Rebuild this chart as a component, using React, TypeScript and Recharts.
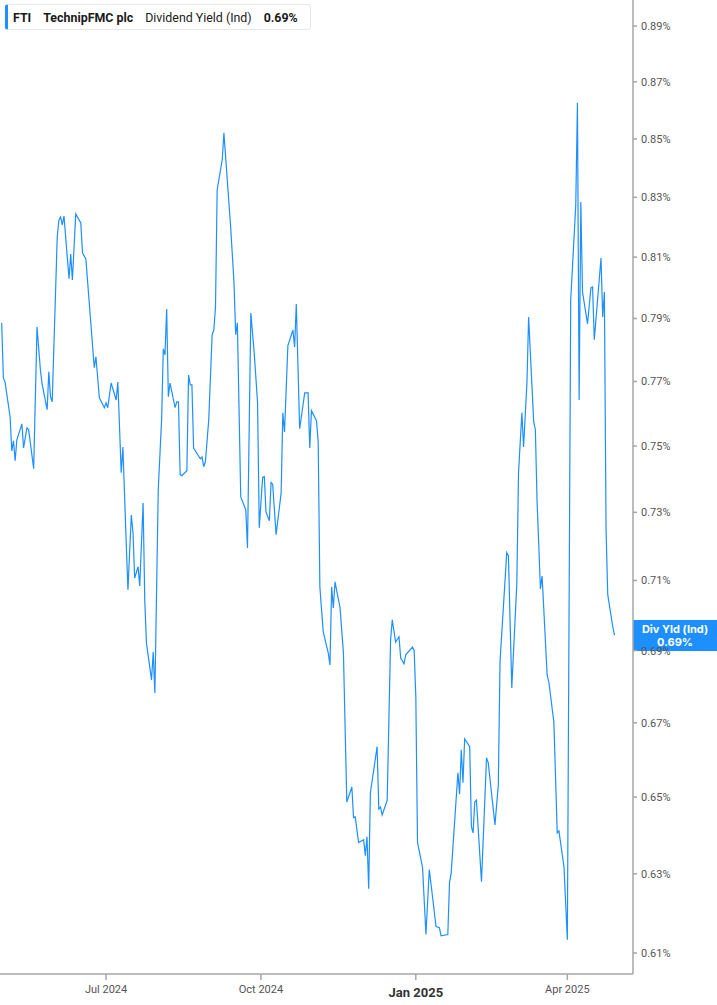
import { LineChart, Line, XAxis, YAxis, ReferenceLine } from 'recharts';

// daily dividend yield (Ind), %
const dates = [
  '2024-04-30', '2024-05-01', '2024-05-02', '2024-05-05', '2024-05-06', '2024-05-07', '2024-05-08',
  '2024-05-09', '2024-05-12', '2024-05-13', '2024-05-15', '2024-05-16', '2024-05-19', '2024-05-21', '2024-05-23',
  '2024-05-24', '2024-05-27', '2024-05-28', '2024-05-29', '2024-05-30', '2024-06-02', '2024-06-03', '2024-06-04',
  '2024-06-05', '2024-06-06', '2024-06-09', '2024-06-10', '2024-06-11', '2024-06-13', '2024-06-16', '2024-06-17',
  '2024-06-19', '2024-06-24', '2024-06-25', '2024-06-27', '2024-06-30', '2024-07-01', '2024-07-02', '2024-07-04',
  '2024-07-07', '2024-07-08', '2024-07-10', '2024-07-11', '2024-07-13', '2024-07-14', '2024-07-16', '2024-07-17',
  '2024-07-18', '2024-07-20', '2024-07-21', '2024-07-23', '2024-07-24', '2024-07-25', '2024-07-28', '2024-07-29',
  '2024-07-30', '2024-08-01', '2024-08-03', '2024-08-04', '2024-08-05', '2024-08-06', '2024-08-07', '2024-08-08',
  '2024-08-11', '2024-08-12', '2024-08-13', '2024-08-14', '2024-08-15', '2024-08-18', '2024-08-19', '2024-08-20',
  '2024-08-21', '2024-08-22', '2024-08-26', '2024-08-27', '2024-08-28', '2024-08-29', '2024-08-31', '2024-09-02',
  '2024-09-03', '2024-09-04', '2024-09-05', '2024-09-08', '2024-09-09', '2024-09-11', '2024-09-13', '2024-09-15',
  '2024-09-16', '2024-09-17', '2024-09-19', '2024-09-22', '2024-09-23', '2024-09-25', '2024-09-27', '2024-09-29',
  '2024-09-30', '2024-10-02', '2024-10-03', '2024-10-04', '2024-10-06', '2024-10-07', '2024-10-08', '2024-10-10',
  '2024-10-13', '2024-10-14', '2024-10-15', '2024-10-17', '2024-10-20', '2024-10-21', '2024-10-22', '2024-10-24',
  '2024-10-27', '2024-10-29', '2024-10-30', '2024-10-31', '2024-11-03', '2024-11-04', '2024-11-05', '2024-11-07',
  '2024-11-10', '2024-11-11', '2024-11-12', '2024-11-13', '2024-11-14', '2024-11-17', '2024-11-19', '2024-11-21',
  '2024-11-24', '2024-11-25', '2024-11-26', '2024-11-28', '2024-12-01', '2024-12-02', '2024-12-03', '2024-12-04',
  '2024-12-05', '2024-12-09', '2024-12-10', '2024-12-11', '2024-12-12', '2024-12-15', '2024-12-17', '2024-12-18',
  '2024-12-20', '2024-12-22', '2024-12-23', '2024-12-25', '2024-12-26', '2024-12-30', '2024-12-31', '2025-01-01',
  '2025-01-02', '2025-01-05', '2025-01-07', '2025-01-09', '2025-01-13', '2025-01-15', '2025-01-16', '2025-01-20',
  '2025-01-21', '2025-01-22', '2025-01-26', '2025-01-27', '2025-01-28', '2025-01-29', '2025-01-30', '2025-02-02',
  '2025-02-03', '2025-02-04', '2025-02-05', '2025-02-06', '2025-02-09', '2025-02-12', '2025-02-13', '2025-02-17',
  '2025-02-19', '2025-02-20', '2025-02-24', '2025-02-25', '2025-02-27', '2025-03-02', '2025-03-03', '2025-03-05',
  '2025-03-06', '2025-03-08', '2025-03-09', '2025-03-12', '2025-03-13', '2025-03-14', '2025-03-16', '2025-03-17',
  '2025-03-20', '2025-03-21', '2025-03-24', '2025-03-26', '2025-03-27', '2025-03-30', '2025-04-01', '2025-04-03',
  '2025-04-06', '2025-04-07', '2025-04-08', '2025-04-09', '2025-04-10', '2025-04-13', '2025-04-15', '2025-04-16',
  '2025-04-17', '2025-04-21', '2025-04-22', '2025-04-23', '2025-04-24', '2025-04-25', '2025-04-28', '2025-04-29',
];

const yieldPct = [
  0.7886, 0.7711, 0.7698, 0.759, 0.7485, 0.7516, 0.7455,
  0.7519, 0.7568, 0.7494, 0.7556, 0.755, 0.7431, 0.7873, 0.7736,
  0.7692, 0.7612, 0.773, 0.7652, 0.7636, 0.8167, 0.8224, 0.8234,
  0.8207, 0.8237, 0.8029, 0.811, 0.8025, 0.8244, 0.8214, 0.8114,
  0.8094, 0.7743, 0.7778, 0.7649, 0.7618, 0.7633, 0.7618, 0.7695,
  0.7642, 0.7698, 0.7419, 0.7497, 0.7204, 0.7073, 0.7292, 0.724,
  0.7107, 0.714, 0.7084, 0.7328, 0.7041, 0.6921, 0.6818, 0.6896,
  0.6782, 0.7368, 0.7581, 0.7803, 0.7784, 0.7931, 0.7652, 0.7695,
  0.7618, 0.7636, 0.7636, 0.7413, 0.741, 0.7425, 0.772, 0.7689,
  0.7689, 0.7494, 0.7461, 0.7467, 0.7437, 0.7452, 0.7581, 0.7848,
  0.7863, 0.7937, 0.8325, 0.8428, 0.8521, 0.8359, 0.8201, 0.8016,
  0.7848, 0.7886, 0.7346, 0.7307, 0.7195, 0.7918, 0.779, 0.7633,
  0.7254, 0.7404, 0.7407, 0.7301, 0.7275, 0.7389, 0.7383, 0.7234,
  0.7358, 0.7602, 0.7543, 0.7813, 0.7863, 0.7809, 0.7947, 0.7553,
  0.7664, 0.7664, 0.7494, 0.7609, 0.7578, 0.7513, 0.7081, 0.6953,
  0.6893, 0.686, 0.7081, 0.7021, 0.7096, 0.7021, 0.6893, 0.6487,
  0.6527, 0.6446, 0.6448, 0.6381, 0.6388, 0.6347, 0.6396, 0.6262,
  0.6511, 0.6635, 0.6469, 0.6474, 0.6453, 0.6492, 0.693, 0.6987,
  0.6924, 0.6939, 0.6879, 0.6863, 0.6888, 0.691, 0.6901, 0.6771,
  0.6381, 0.6316, 0.6146, 0.6311, 0.6166, 0.6163, 0.6143, 0.6146,
  0.6277, 0.6302, 0.6565, 0.6508, 0.6627, 0.6538, 0.6656, 0.6635,
  0.6422, 0.6406, 0.6487, 0.6492, 0.628, 0.6605, 0.6592, 0.6427,
  0.6533, 0.6868, 0.7181, 0.7172, 0.6796, 0.7093, 0.7419, 0.7602,
  0.7497, 0.7695, 0.7905, 0.7575, 0.755, 0.7337, 0.7076, 0.7113,
  0.6832, 0.6813, 0.6702, 0.6406, 0.6411, 0.6318, 0.6133, 0.796,
  0.8274, 0.8626, 0.7642, 0.8284, 0.7986, 0.7883, 0.7999, 0.8002,
  0.7832, 0.8097, 0.7905, 0.7986, 0.7248, 0.7059, 0.6967, 0.6944,
];

const yTicks = [0.61, 0.63, 0.65, 0.67, 0.69, 0.71, 0.73, 0.75, 0.77, 0.79, 0.81, 0.83, 0.85, 0.87, 0.89];
const xTickDates = ['2024-07-01', '2024-10-01', '2025-01-01', '2025-04-01'];
const xTickLabels = ['Jul 2024', 'Oct 2024', 'Jan 2025', 'Apr 2025'];
const yearStartLabel = 'Jan 2025';

const ticker = 'FTI';
const company = 'TechnipFMC plc';
const metric = 'Dividend Yield (Ind)';
const metricShort = 'Div Yld (Ind)';

const BLUE = '#1e8fff';
const AXIS = '#a6a6a6';

const toTs = (s: string) => Date.parse(s + 'T00:00:00Z');

const data = dates.map((d, i) => ({ t: toTs(d), v: yieldPct[i] }));
const xTicks = xTickDates.map(toTs);
const lastValue = yieldPct[yieldPct.length - 1];
const fmt = (v: number) => v.toFixed(2) + '%';

function XTick(props: any) {
  const { x, y, payload } = props;
  const label = xTickLabels[xTicks.indexOf(payload.value)];
  const bold = label === yearStartLabel;
  return (
    <text
      x={x}
      y={y + (bold ? 15 : 11)}
      textAnchor="middle"
      fill={bold ? '#333' : '#555'}
      fontSize={bold ? 13 : 11}
      fontWeight={bold ? 700 : 400}
      fontFamily="Roboto, sans-serif"
    >
      {label}
    </text>
  );
}

function LastTag(props: any) {
  const { viewBox } = props;
  if (!viewBox) return null;
  const x = viewBox.x + viewBox.width;
  const y = viewBox.y;
  return (
    <g>
      <rect x={x} y={y - 15} width={84} height={31} fill={BLUE} />
      <text x={x + 42} y={y - 2} textAnchor="middle" fill="#fff" fontSize={11} fontWeight={700} fontFamily="Inter, sans-serif">
        {metricShort}
      </text>
      <text x={x + 42} y={y + 11} textAnchor="middle" fill="#fff" fontSize={11} fontWeight={700} fontFamily="Inter, sans-serif">
        {fmt(lastValue)}
      </text>
    </g>
  );
}

export default function App() {
  return (
    <div style={{ position: 'absolute', left: 0, top: 0, width: 717, height: 1005, background: '#fff' }}>
      <LineChart width={717} height={1005} data={data} margin={{ top: 0, right: 0, bottom: 0, left: 0 }}>
        <XAxis
          dataKey="t"
          type="number"
          domain={[toTs('2024-04-29'), toTs('2025-05-10')]}
          allowDataOverflow
          ticks={xTicks}
          tick={<XTick />}
          height={31}
          stroke={AXIS}
          strokeWidth={1.5}
          tickSize={6}
          tickMargin={2}
        />
        <YAxis
          orientation="right"
          type="number"
          scale="log"
          domain={[0.6048, 0.8995]}
          allowDataOverflow
          ticks={yTicks}
          tickFormatter={fmt}
          width={84}
          stroke={AXIS}
          strokeWidth={1.5}
          tickSize={4}
          tickMargin={4}
          tick={{ fill: '#555', fontSize: 11, fontFamily: 'Roboto, sans-serif' }}
        />
        <Line
          type="linear"
          dataKey="v"
          stroke={BLUE}
          strokeWidth={1.2}
          dot={false}
          activeDot={false}
          isAnimationActive={false}
        />
        <ReferenceLine y={lastValue} stroke="none" label={<LastTag />} />
      </LineChart>
      <div
        style={{
          position: 'absolute',
          left: 5,
          top: 4,
          height: 26,
          boxSizing: 'border-box',
          display: 'flex',
          alignItems: 'center',
          gap: 12,
          padding: '0 12px 0 5px',
          background: '#fff',
          border: '1px solid #e8e8e8',
          borderLeft: `3px solid ${BLUE}`,
          borderRadius: 3,
          fontFamily: 'Roboto, sans-serif',
          fontSize: 12.4,
          color: '#1a1a1a',
          whiteSpace: 'nowrap',
        }}
      >
        <span style={{ fontWeight: 700 }}>{ticker}</span>
        <span style={{ fontWeight: 700 }}>{company}</span>
        <span>{metric}</span>
        <span style={{ fontWeight: 700 }}>{fmt(lastValue)}</span>
      </div>
    </div>
  );
}
